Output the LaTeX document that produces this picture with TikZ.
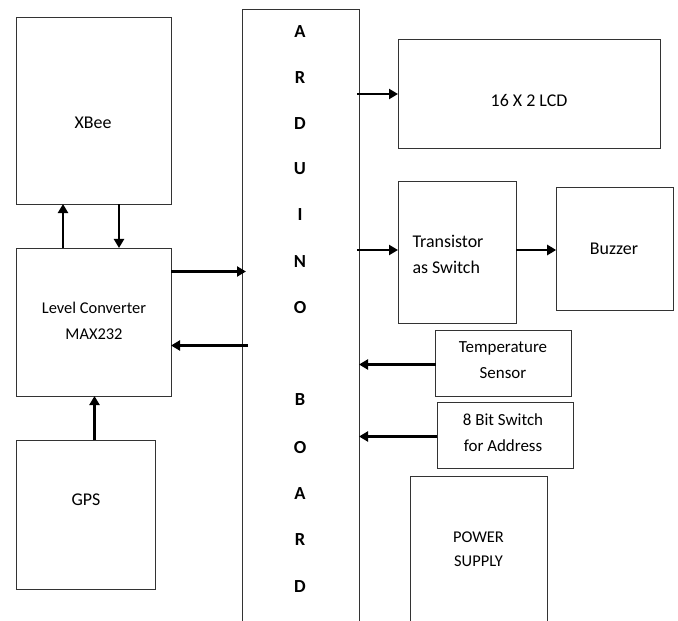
\documentclass[tikz,border=0pt]{standalone}
\usepackage{fontspec}
\setmainfont{Carlito}
\usetikzlibrary{arrows.meta,calc}
\begin{document}
\begin{tikzpicture}[x=1bp,y=-1bp,
  blk/.style={draw=black!80, line width=1bp, inner sep=0pt, outer sep=0pt},
  txt/.style={font=\fontsize{18}{26}\selectfont, text=black, align=center, inner sep=0pt},
  arr/.style={draw=black, line width=2.8bp, -{Triangle[length=9bp,width=10bp]}},
  lt/.style={font=\bfseries\fontsize{18.5}{20}\selectfont, text=black, inner sep=0pt}]
\useasboundingbox (0,0) rectangle (678,621);
\clip (0,0) rectangle (678,621);
% boxes
\node[blk, minimum width=154bp, minimum height=186bp] (xbee) at (94,111) {};
\node[txt] (xbeet) at (93,123) {XBee};
\node[blk, minimum width=154bp, minimum height=148bp] (lc) at (94,322) {};
\node[txt, font=\fontsize{16.5}{26}\selectfont] (lct) at (94,321) {Level Converter\\MAX232};
\node[blk, minimum width=138bp, minimum height=149bp] (gps) at (86,514.5) {};
\node[txt] (gpst) at (86,500) {GPS};
\node[blk, minimum width=117bp, minimum height=660bp] (ard) at (300.5,340) {};
\node[blk, minimum width=262bp, minimum height=109bp] (lcd) at (529,94) {};
\node[txt] (lcdt) at (529,101) {16 X 2 LCD};
\node[blk, minimum width=118bp, minimum height=141bp] (tr) at (457,252.5) {};
\node[txt, align=left] (trt) at (448,254.5) {Transistor\\as Switch};
\node[blk, minimum width=117bp, minimum height=122bp] (bz) at (614.7,249) {};
\node[txt] (bzt) at (614,249) {Buzzer};
\node[blk, minimum width=136bp, minimum height=66bp] (ts) at (503.7,363) {};
\node[txt, font=\fontsize{17}{26}\selectfont] (tst) at (503,360) {Temperature\\Sensor};
\node[blk, minimum width=136bp, minimum height=66bp] (sw) at (505.3,435.3) {};
\node[txt, font=\fontsize{17}{26}\selectfont] (swt) at (503,432.5) {8 Bit Switch\\for Address};
\node[blk, minimum width=137bp, minimum height=200bp] (ps) at (478.7,576) {};
\node[txt, font=\fontsize{16.5}{24}\selectfont] (pst) at (478.5,549) {POWER\\SUPPLY};
% arduino letters
\foreach \l/\yy [count=\i] in {A/32,R/78,D/124,U/169,I/215,N/262,O/308,B/400,O/448,A/494,R/540,D/587}
  \node[lt] (al\i) at (300,\yy) {\l};
% connectors
\draw[arr] (lc.north -| 63,0) -- (xbee.south -| 63,0);
\draw[arr] (xbee.south -| 119,0) -- (lc.north -| 119,0);
\draw[arr] (lc.east |- 0,271.5) -- ($(ard.west |- 0,271.5)+(4,0)$);
\draw[arr] ($(ard.west |- 0,345.5)+(6,0)$) -- (lc.east |- 0,345.5);
\draw[arr] (gps.north -| 94.5,0) -- (lc.south -| 94.5,0);
\draw[arr] ($(ard.east |- lcd.west)+(-2,0)$) -- (lcd.west);
\draw[arr] ($(ard.east |- 0,250)+(-2,0)$) -- (tr.west |- 0,250);
\draw[arr] (tr.east |- 0,250) -- (bz.west |- 0,250);
\draw[arr] (ts.west |- 0,364.5) -- (ard.east |- 0,364.5);
\draw[arr] (sw.west |- 0,436.5) -- (ard.east |- 0,436.5);
\end{tikzpicture}
\end{document}
